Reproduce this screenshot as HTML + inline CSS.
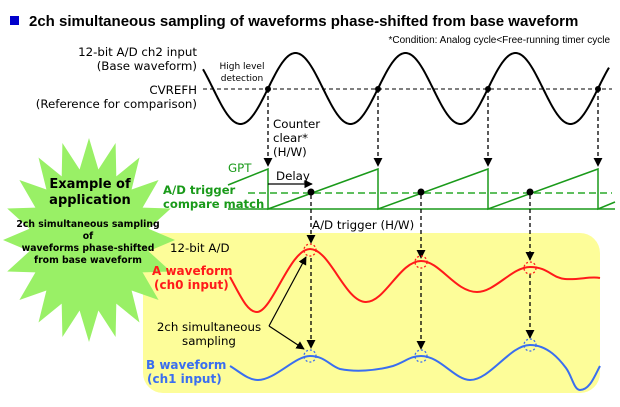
<!DOCTYPE html>
<html><head><meta charset="utf-8"><style>
body{margin:0;background:#fff}
svg{display:block}
text{font-family:"DejaVu Sans",sans-serif}
</style></head><body>
<svg id="s" width="620" height="407" viewBox="0 0 620 407" xmlns="http://www.w3.org/2000/svg">
<defs>
<marker id="ah" viewBox="0 0 10 10" refX="9" refY="5" markerWidth="7" markerHeight="7" orient="auto"><path d="M0,0 L10,5 L0,10 z" fill="#000"/></marker>
</defs>
<rect x="10" y="16" width="9" height="9" fill="#0000cc"/>
<text x="29" y="26" font-size="15" font-weight="bold" fill="#000" style="font-family:'Liberation Sans',sans-serif">2ch simultaneous sampling of waveforms phase-shifted from base waveform</text>
<text x="610" y="43" font-size="10" text-anchor="end" style="font-family:'Liberation Sans',sans-serif">*Condition: Analog cycle&lt;Free-running timer cycle</text>

<rect x="143" y="233" width="457" height="160" rx="20" fill="#fdfd99"/>
<polygon id="star" fill="#99f066"/>
<g font-weight="bold" text-anchor="middle" font-size="13">
<text x="90" y="188">Example of</text>
<text x="90" y="204">application</text>
</g>
<g font-weight="bold" text-anchor="middle" font-size="9.3">
<text x="88" y="227">2ch simultaneous sampling</text>
<text x="88" y="239">of</text>
<text x="88" y="251">waveforms phase-shifted</text>
<text x="88" y="263">from base waveform</text>
</g>

<g font-size="11.8" text-anchor="end">
<text x="197" y="56">12-bit A/D ch2 input</text>
<text x="197" y="70">(Base waveform)</text>
<text x="197" y="94">CVREFH</text>
<text x="197" y="108">(Reference for comparison)</text>
</g>
<g font-size="9" text-anchor="middle"><text x="242" y="69">High level</text><text x="242" y="81">detection</text></g>
<line x1="203" y1="89" x2="612" y2="89" stroke="#000" stroke-dasharray="4,3"/>
<path id="base" fill="none" stroke="#000" stroke-width="2"/>
<g font-size="11.8"><text x="273" y="128">Counter</text><text x="273" y="142">clear*</text><text x="273" y="156">(H/W)</text></g>

<g stroke="#000" stroke-dasharray="4,3" stroke-width="1.3">
<line x1="268" y1="89" x2="268" y2="166" marker-end="url(#ah)"/>
<line x1="378" y1="89" x2="378" y2="166" marker-end="url(#ah)"/>
<line x1="488" y1="89" x2="488" y2="166" marker-end="url(#ah)"/>
<line x1="598" y1="89" x2="598" y2="166" marker-end="url(#ah)"/>
</g>
<g fill="#000"><circle cx="268" cy="89" r="3"/><circle cx="378" cy="89" r="3"/><circle cx="488" cy="89" r="3"/><circle cx="598" cy="89" r="3"/></g>

<g stroke="#1a9a1a" stroke-width="1.5" fill="none">
<line x1="228" y1="209" x2="615" y2="209"/>
<path d="M228,185 L268,169 L268,209 L378,169 L378,209 L488,169 L488,209 L598,169 L598,209 L615,202"/>
</g>
<line x1="248" y1="193" x2="612" y2="193" stroke="#2aaa2a" stroke-width="1.5" stroke-dasharray="7,4"/>
<text x="228" y="172" font-size="11.8" fill="#1a9a1a">GPT</text>
<g font-size="11.6" font-weight="bold" fill="#1a9a1a"><text x="163" y="194">A/D trigger</text><text x="163" y="208">compare match</text></g>
<text x="276" y="180" font-size="11.8">Delay</text>
<line x1="268" y1="184" x2="312" y2="184" stroke="#000" stroke-width="1.2" marker-end="url(#ah)"/>

<text x="170" y="252" font-size="11.8">12-bit A/D</text>
<text x="312" y="229" font-size="11.8">A/D trigger (H/W)</text>

<path fill="none" stroke="#ff1a1a" stroke-width="2" d="M230,277 C240,295 247,312 257,312 C272,312 290,249 310,249 C330,249 345,302 366,302 C385,302 400,261 421,261 C440,261 455,292 477,292 C495,292 512,267 530,267 C548,267 552,278 565,279 C580,280 590,276 600,278"/>
<path fill="none" stroke="#3a6ef0" stroke-width="2" d="M230,366 C240,372 248,380 258,380 C275,380 295,356 310,356 C325,356 330,366 340,369 C355,372 375,371 393,366 C405,362 410,356 421,356 C440,356 455,380 470,380 C490,380 510,345 530,345 C548,345 560,360 566,368 C572,376 574,390 580,390 C590,390 595,375 600,366"/>

<g stroke="#000" stroke-dasharray="4,3" stroke-width="1.3">
<line x1="311" y1="195" x2="311" y2="243" marker-end="url(#ah)"/>
<line x1="311" y1="258" x2="311" y2="348" marker-end="url(#ah)"/>
<line x1="421" y1="195" x2="421" y2="258" marker-end="url(#ah)"/>
<line x1="421" y1="272" x2="421" y2="349" marker-end="url(#ah)"/>
<line x1="530" y1="195" x2="530" y2="260" marker-end="url(#ah)"/>
<line x1="530" y1="274" x2="530" y2="338" marker-end="url(#ah)"/>
</g>
<g fill="#000"><circle cx="311" cy="192" r="3.5"/><circle cx="421" cy="192" r="3.5"/><circle cx="530" cy="192" r="3.5"/></g>
<g fill="none" stroke-dasharray="2,2" stroke-width="1.3">
<circle cx="310" cy="250" r="6" stroke="#ff1a1a"/><circle cx="421" cy="262" r="6" stroke="#ff1a1a"/><circle cx="530" cy="268" r="6" stroke="#ff1a1a"/>
<circle cx="310" cy="356" r="6" stroke="#3a6ef0"/><circle cx="421" cy="356" r="6" stroke="#3a6ef0"/><circle cx="530" cy="345" r="6" stroke="#3a6ef0"/>
</g>
<g font-size="12" font-weight="bold" fill="#ff1a1a"><text x="152" y="275">A waveform</text><text x="154" y="289">(ch0 input)</text></g>
<g font-size="12" font-weight="bold" fill="#3a6ef0"><text x="146" y="369">B waveform</text><text x="147" y="383">(ch1 input)</text></g>
<g font-size="11.8" text-anchor="middle"><text x="209" y="331">2ch simultaneous</text><text x="209" y="345">sampling</text></g>
<g stroke="#000" stroke-width="1.2" fill="none">
<line x1="269" y1="326" x2="306" y2="257" marker-end="url(#ah)"/>
<line x1="269" y1="326" x2="304" y2="349" marker-end="url(#ah)"/>
</g>
</svg>
<script>
var d="";for(var x=203;x<=609;x+=1){var y=88.5-35.5*Math.sin(2*Math.PI*(x-268)/110);d+=(x==203?"M":"L")+x+","+y.toFixed(1);}
document.getElementById("base").setAttribute("d",d);
var p=[],n=20,cx=89,cy=240;for(var i=0;i<2*n;i++){var a=Math.PI*i/n-Math.PI/2;var f=i%2==0?1:0.7;p.push((cx+86*f*Math.cos(a)).toFixed(1)+","+(cy+102*f*Math.sin(a)).toFixed(1));}
document.getElementById("star").setAttribute("points",p.join(" "));
</script>
</body></html>
